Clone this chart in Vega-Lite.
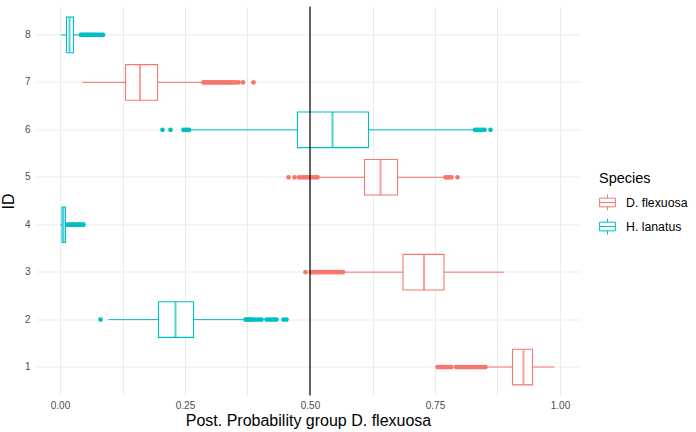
{
  "$schema": "https://vega.github.io/schema/vega-lite/v6.json",
  "autosize": "none",
  "width": 544,
  "height": 389,
  "padding": {"left": 36, "top": 6.5, "right": 116, "bottom": 36.5},
  "background": "white",
  "config": {
    "view": {"stroke": null},
    "font": "Liberation Sans",
    "axis": {
      "domain": false,
      "ticks": false,
      "gridColor": "#EBEBEB",
      "gridWidth": 1,
      "labelColor": "#4D4D4D",
      "labelFontSize": 10,
      "labelFont": "Liberation Sans",
      "titleFont": "Liberation Sans",
      "titleFontSize": 16,
      "titleFontWeight": "normal",
      "titleColor": "#000000"
    },
    "legend": {
      "titleFont": "Liberation Sans",
      "titleFontSize": 14.5,
      "titleFontWeight": "normal",
      "titleColor": "#000000",
      "labelFont": "Liberation Sans",
      "labelFontSize": 12.3,
      "labelColor": "#000000"
    }
  },
  "resolve": {"legend": {"stroke": "independent"}},
  "datasets": {
    "boxes": [
      {"ID": 8, "Species": "H. lanatus", "lo": 0.002, "q1": 0.013, "med": 0.019, "q3": 0.027, "hi": 0.041},
      {"ID": 7, "Species": "D. flexuosa", "lo": 0.045, "q1": 0.131, "med": 0.160, "q3": 0.195, "hi": 0.285},
      {"ID": 6, "Species": "H. lanatus", "lo": 0.260, "q1": 0.475, "med": 0.545, "q3": 0.617, "hi": 0.828},
      {"ID": 5, "Species": "D. flexuosa", "lo": 0.517, "q1": 0.609, "med": 0.641, "q3": 0.675, "hi": 0.769},
      {"ID": 4, "Species": "H. lanatus", "lo": 0.001, "q1": 0.004, "med": 0.007, "q3": 0.011, "hi": 0.014},
      {"ID": 3, "Species": "D. flexuosa", "lo": 0.569, "q1": 0.686, "med": 0.728, "q3": 0.768, "hi": 0.888},
      {"ID": 2, "Species": "H. lanatus", "lo": 0.097, "q1": 0.197, "med": 0.231, "q3": 0.267, "hi": 0.369},
      {"ID": 1, "Species": "D. flexuosa", "lo": 0.852, "q1": 0.905, "med": 0.927, "q3": 0.945, "hi": 0.989}
    ],
    "outliers": [
      {"ID": 8, "Species": "H. lanatus", "v": 0.042}, {"ID": 8, "Species": "H. lanatus", "v": 0.045}, {"ID": 8, "Species": "H. lanatus", "v": 0.047},
      {"ID": 8, "Species": "H. lanatus", "v": 0.050}, {"ID": 8, "Species": "H. lanatus", "v": 0.053}, {"ID": 8, "Species": "H. lanatus", "v": 0.055},
      {"ID": 8, "Species": "H. lanatus", "v": 0.058}, {"ID": 8, "Species": "H. lanatus", "v": 0.061}, {"ID": 8, "Species": "H. lanatus", "v": 0.063},
      {"ID": 8, "Species": "H. lanatus", "v": 0.066}, {"ID": 8, "Species": "H. lanatus", "v": 0.069}, {"ID": 8, "Species": "H. lanatus", "v": 0.071},
      {"ID": 8, "Species": "H. lanatus", "v": 0.074}, {"ID": 8, "Species": "H. lanatus", "v": 0.077}, {"ID": 8, "Species": "H. lanatus", "v": 0.080},
      {"ID": 8, "Species": "H. lanatus", "v": 0.083}, {"ID": 8, "Species": "H. lanatus", "v": 0.086},
      {"ID": 7, "Species": "D. flexuosa", "v": 0.287}, {"ID": 7, "Species": "D. flexuosa", "v": 0.290}, {"ID": 7, "Species": "D. flexuosa", "v": 0.294},
      {"ID": 7, "Species": "D. flexuosa", "v": 0.297}, {"ID": 7, "Species": "D. flexuosa", "v": 0.301}, {"ID": 7, "Species": "D. flexuosa", "v": 0.304},
      {"ID": 7, "Species": "D. flexuosa", "v": 0.308}, {"ID": 7, "Species": "D. flexuosa", "v": 0.311}, {"ID": 7, "Species": "D. flexuosa", "v": 0.315},
      {"ID": 7, "Species": "D. flexuosa", "v": 0.318}, {"ID": 7, "Species": "D. flexuosa", "v": 0.322}, {"ID": 7, "Species": "D. flexuosa", "v": 0.325},
      {"ID": 7, "Species": "D. flexuosa", "v": 0.329}, {"ID": 7, "Species": "D. flexuosa", "v": 0.332}, {"ID": 7, "Species": "D. flexuosa", "v": 0.336},
      {"ID": 7, "Species": "D. flexuosa", "v": 0.339}, {"ID": 7, "Species": "D. flexuosa", "v": 0.343}, {"ID": 7, "Species": "D. flexuosa", "v": 0.346},
      {"ID": 7, "Species": "D. flexuosa", "v": 0.351}, {"ID": 7, "Species": "D. flexuosa", "v": 0.357}, {"ID": 7, "Species": "D. flexuosa", "v": 0.366},
      {"ID": 7, "Species": "D. flexuosa", "v": 0.387},
      {"ID": 6, "Species": "H. lanatus", "v": 0.205}, {"ID": 6, "Species": "H. lanatus", "v": 0.221}, {"ID": 6, "Species": "H. lanatus", "v": 0.247},
      {"ID": 6, "Species": "H. lanatus", "v": 0.251}, {"ID": 6, "Species": "H. lanatus", "v": 0.255}, {"ID": 6, "Species": "H. lanatus", "v": 0.258},
      {"ID": 6, "Species": "H. lanatus", "v": 0.830}, {"ID": 6, "Species": "H. lanatus", "v": 0.834}, {"ID": 6, "Species": "H. lanatus", "v": 0.838},
      {"ID": 6, "Species": "H. lanatus", "v": 0.842}, {"ID": 6, "Species": "H. lanatus", "v": 0.846}, {"ID": 6, "Species": "H. lanatus", "v": 0.849},
      {"ID": 6, "Species": "H. lanatus", "v": 0.861},
      {"ID": 5, "Species": "D. flexuosa", "v": 0.457}, {"ID": 5, "Species": "D. flexuosa", "v": 0.469}, {"ID": 5, "Species": "D. flexuosa", "v": 0.478},
      {"ID": 5, "Species": "D. flexuosa", "v": 0.482}, {"ID": 5, "Species": "D. flexuosa", "v": 0.487}, {"ID": 5, "Species": "D. flexuosa", "v": 0.491},
      {"ID": 5, "Species": "D. flexuosa", "v": 0.495}, {"ID": 5, "Species": "D. flexuosa", "v": 0.499}, {"ID": 5, "Species": "D. flexuosa", "v": 0.503},
      {"ID": 5, "Species": "D. flexuosa", "v": 0.508}, {"ID": 5, "Species": "D. flexuosa", "v": 0.512}, {"ID": 5, "Species": "D. flexuosa", "v": 0.515},
      {"ID": 5, "Species": "D. flexuosa", "v": 0.771}, {"ID": 5, "Species": "D. flexuosa", "v": 0.775}, {"ID": 5, "Species": "D. flexuosa", "v": 0.779},
      {"ID": 5, "Species": "D. flexuosa", "v": 0.783}, {"ID": 5, "Species": "D. flexuosa", "v": 0.795},
      {"ID": 4, "Species": "H. lanatus", "v": 0.015}, {"ID": 4, "Species": "H. lanatus", "v": 0.018}, {"ID": 4, "Species": "H. lanatus", "v": 0.021},
      {"ID": 4, "Species": "H. lanatus", "v": 0.024}, {"ID": 4, "Species": "H. lanatus", "v": 0.027}, {"ID": 4, "Species": "H. lanatus", "v": 0.030},
      {"ID": 4, "Species": "H. lanatus", "v": 0.033}, {"ID": 4, "Species": "H. lanatus", "v": 0.036}, {"ID": 4, "Species": "H. lanatus", "v": 0.039},
      {"ID": 4, "Species": "H. lanatus", "v": 0.042}, {"ID": 4, "Species": "H. lanatus", "v": 0.045}, {"ID": 4, "Species": "H. lanatus", "v": 0.047},
      {"ID": 3, "Species": "D. flexuosa", "v": 0.491}, {"ID": 3, "Species": "D. flexuosa", "v": 0.502}, {"ID": 3, "Species": "D. flexuosa", "v": 0.506},
      {"ID": 3, "Species": "D. flexuosa", "v": 0.510}, {"ID": 3, "Species": "D. flexuosa", "v": 0.514}, {"ID": 3, "Species": "D. flexuosa", "v": 0.518},
      {"ID": 3, "Species": "D. flexuosa", "v": 0.522}, {"ID": 3, "Species": "D. flexuosa", "v": 0.526}, {"ID": 3, "Species": "D. flexuosa", "v": 0.530},
      {"ID": 3, "Species": "D. flexuosa", "v": 0.534}, {"ID": 3, "Species": "D. flexuosa", "v": 0.538}, {"ID": 3, "Species": "D. flexuosa", "v": 0.542},
      {"ID": 3, "Species": "D. flexuosa", "v": 0.546}, {"ID": 3, "Species": "D. flexuosa", "v": 0.550}, {"ID": 3, "Species": "D. flexuosa", "v": 0.554},
      {"ID": 3, "Species": "D. flexuosa", "v": 0.558}, {"ID": 3, "Species": "D. flexuosa", "v": 0.562}, {"ID": 3, "Species": "D. flexuosa", "v": 0.566},
      {"ID": 2, "Species": "H. lanatus", "v": 0.081},
      {"ID": 2, "Species": "H. lanatus", "v": 0.371}, {"ID": 2, "Species": "H. lanatus", "v": 0.374}, {"ID": 2, "Species": "H. lanatus", "v": 0.377},
      {"ID": 2, "Species": "H. lanatus", "v": 0.380}, {"ID": 2, "Species": "H. lanatus", "v": 0.383}, {"ID": 2, "Species": "H. lanatus", "v": 0.386},
      {"ID": 2, "Species": "H. lanatus", "v": 0.392}, {"ID": 2, "Species": "H. lanatus", "v": 0.398}, {"ID": 2, "Species": "H. lanatus", "v": 0.403},
      {"ID": 2, "Species": "H. lanatus", "v": 0.413}, {"ID": 2, "Species": "H. lanatus", "v": 0.418}, {"ID": 2, "Species": "H. lanatus", "v": 0.423},
      {"ID": 2, "Species": "H. lanatus", "v": 0.428}, {"ID": 2, "Species": "H. lanatus", "v": 0.433}, {"ID": 2, "Species": "H. lanatus", "v": 0.447},
      {"ID": 2, "Species": "H. lanatus", "v": 0.453},
      {"ID": 1, "Species": "D. flexuosa", "v": 0.755}, {"ID": 1, "Species": "D. flexuosa", "v": 0.759}, {"ID": 1, "Species": "D. flexuosa", "v": 0.763},
      {"ID": 1, "Species": "D. flexuosa", "v": 0.767}, {"ID": 1, "Species": "D. flexuosa", "v": 0.771}, {"ID": 1, "Species": "D. flexuosa", "v": 0.775},
      {"ID": 1, "Species": "D. flexuosa", "v": 0.779}, {"ID": 1, "Species": "D. flexuosa", "v": 0.783},
      {"ID": 1, "Species": "D. flexuosa", "v": 0.792}, {"ID": 1, "Species": "D. flexuosa", "v": 0.796}, {"ID": 1, "Species": "D. flexuosa", "v": 0.800},
      {"ID": 1, "Species": "D. flexuosa", "v": 0.804}, {"ID": 1, "Species": "D. flexuosa", "v": 0.808}, {"ID": 1, "Species": "D. flexuosa", "v": 0.812},
      {"ID": 1, "Species": "D. flexuosa", "v": 0.816}, {"ID": 1, "Species": "D. flexuosa", "v": 0.820}, {"ID": 1, "Species": "D. flexuosa", "v": 0.824},
      {"ID": 1, "Species": "D. flexuosa", "v": 0.828}, {"ID": 1, "Species": "D. flexuosa", "v": 0.832}, {"ID": 1, "Species": "D. flexuosa", "v": 0.836},
      {"ID": 1, "Species": "D. flexuosa", "v": 0.840}, {"ID": 1, "Species": "D. flexuosa", "v": 0.844}, {"ID": 1, "Species": "D. flexuosa", "v": 0.848},
      {"ID": 1, "Species": "D. flexuosa", "v": 0.851}
    ]
  },
  "layer": [
    {
      "data": {"name": "boxes"},
      "mark": {"type": "rule", "strokeWidth": 1},
      "encoding": {
        "y": {
          "field": "ID",
          "type": "ordinal",
          "sort": "descending",
          "scale": {"paddingInner": 0.25, "paddingOuter": 0.225},
          "axis": {"title": "ID", "labelPadding": 6, "bandPosition": 0.5, "grid": true, "titlePadding": 8, "labelAngle": 0}
        },
        "x": {
          "field": "lo",
          "type": "quantitative",
          "scale": {"domain": [-0.048, 1.04], "nice": false, "zero": false},
          "axis": {
            "title": "Post. Probability group D. flexuosa",
            "values": [0, 0.125, 0.25, 0.375, 0.5, 0.625, 0.75, 0.875, 1],
            "labelExpr": "round(datum.value * 8) % 2 == 0 ? format(datum.value, '.2f') : ''",
            "labelPadding": 5,
            "titlePadding": 2,
            "grid": true
          }
        },
        "x2": {"field": "hi"},
        "stroke": {
          "field": "Species",
          "type": "nominal",
          "scale": {"domain": ["D. flexuosa", "H. lanatus"], "range": ["#F8766D", "#00BFC4"]},
          "legend": null
        }
      }
    },
    {
      "data": {"name": "boxes"},
      "mark": {"type": "bar", "fill": "white"},
      "encoding": {
        "y": {"field": "ID", "type": "ordinal", "sort": "descending"},
        "x": {"field": "q1", "type": "quantitative"},
        "x2": {"field": "q3"}
      }
    },
    {
      "data": {"name": "boxes"},
      "mark": {"type": "bar", "filled": false, "strokeWidth": 1.1},
      "encoding": {
        "y": {"field": "ID", "type": "ordinal", "sort": "descending"},
        "x": {"field": "q1", "type": "quantitative"},
        "x2": {"field": "q3"},
        "stroke": {
          "field": "Species",
          "type": "nominal",
          "legend": {
            "title": "Species",
            "orient": "none",
            "legendX": 563,
            "legendY": 165,
            "titlePadding": 8,
            "symbolType": "M-1,-0.55H1V0.55H-1Z M-1,0H1 M0,-1V-0.55 M0,0.55V1",
            "symbolSize": 250,
            "symbolStrokeWidth": 1,
            "symbolFillColor": "transparent",
            "rowPadding": 3,
            "labelOffset": 10
          }
        }
      }
    },
    {
      "data": {"name": "boxes"},
      "mark": {"type": "tick", "thickness": 2, "size": 35.6},
      "encoding": {
        "y": {"field": "ID", "type": "ordinal", "sort": "descending"},
        "x": {"field": "med", "type": "quantitative"},
        "fill": {"field": "Species", "type": "nominal", "scale": {"domain": ["D. flexuosa", "H. lanatus"], "range": ["#F8766D", "#00BFC4"]}, "legend": null}
      }
    },
    {
      "data": {"name": "outliers"},
      "mark": {"type": "circle", "size": 22, "opacity": 1},
      "encoding": {
        "y": {"field": "ID", "type": "ordinal", "sort": "descending"},
        "x": {"field": "v", "type": "quantitative"},
        "fill": {"field": "Species", "type": "nominal", "legend": null}
      }
    },
    {
      "data": {"values": [{"ref": 0.5}]},
      "mark": {"type": "rule", "color": "black", "strokeWidth": 1.2},
      "encoding": {
        "x": {"field": "ref", "type": "quantitative"}
      }
    }
  ]
}
